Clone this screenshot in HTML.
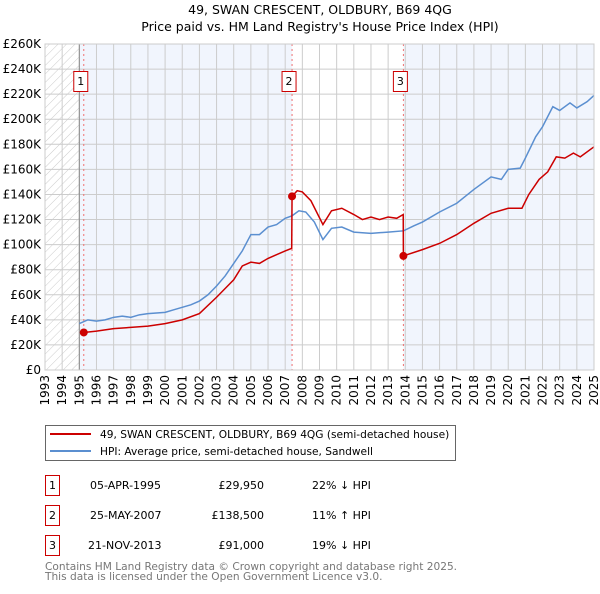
<!DOCTYPE html>
<html><head><meta charset="utf-8"><style>
body{margin:0;background:#fff;font-family:"DejaVu Sans","Liberation Sans",sans-serif;}
svg text{font-family:"DejaVu Sans","Liberation Sans",sans-serif;}
</style></head><body>
<svg id="c" width="600" height="590" viewBox="0 0 600 590" xmlns="http://www.w3.org/2000/svg">
<defs><pattern id="hatch" width="6" height="6" patternUnits="userSpaceOnUse" patternTransform="rotate(45)"><line x1="0" y1="0" x2="0" y2="6" stroke="#ccc" stroke-width="1"/></pattern></defs>
<text x="320" y="14" text-anchor="middle" font-size="12.5" fill="#000">49, SWAN CRESCENT, OLDBURY, B69 4QG</text>
<text x="320" y="31" text-anchor="middle" font-size="12.5" fill="#000">Price paid vs. HM Land Registry's House Price Index (HPI)</text>
<g id="plot"></g>
<g>
<rect x="45.5" y="425.5" width="410" height="35" fill="#fff" stroke="#666"/>
<line x1="50" y1="434" x2="91" y2="434" stroke="#cc0000" stroke-width="2"/>
<text x="100" y="438" font-size="10.6">49, SWAN CRESCENT, OLDBURY, B69 4QG (semi-detached house)</text>
<line x1="50" y1="451" x2="91" y2="451" stroke="#5b8fd0" stroke-width="2"/>
<text x="100" y="455" font-size="10.6">HPI: Average price, semi-detached house, Sandwell</text>
</g>
<g font-size="11">
<rect x="45.5" y="475.5" width="14" height="20" fill="#fff" stroke="#cc0000"/><text x="52.5" y="489" text-anchor="middle">1</text>
<text x="90" y="489">05-APR-1995</text><text x="264" y="489" text-anchor="end">£29,950</text><text x="312" y="489">22% ↓ HPI</text>
<rect x="45.5" y="505.5" width="14" height="20" fill="#fff" stroke="#cc0000"/><text x="52.5" y="519" text-anchor="middle">2</text>
<text x="90" y="519">25-MAY-2007</text><text x="264" y="519" text-anchor="end">£138,500</text><text x="312" y="519">11% ↑ HPI</text>
<rect x="45.5" y="535.5" width="14" height="20" fill="#fff" stroke="#cc0000"/><text x="52.5" y="549" text-anchor="middle">3</text>
<text x="88" y="549">21-NOV-2013</text><text x="264" y="549" text-anchor="end">£91,000</text><text x="312" y="549">19% ↓ HPI</text>
</g>
<text x="45" y="570" font-size="10.6" fill="#777">Contains HM Land Registry data © Crown copyright and database right 2025.</text>
<text x="45" y="580" font-size="10.6" fill="#777">This data is licensed under the Open Government Licence v3.0.</text>
</svg>
<script>
const hpiYears=[1995.0,1995.5,1996,1996.5,1997,1997.5,1998,1998.5,1999,2000,2000.5,2001,2001.5,2002,2002.5,2003,2003.5,2004,2004.5,2005,2005.5,2006,2006.5,2007,2007.4,2007.8,2008.2,2008.7,2009.2,2009.7,2010.3,2011,2012,2013,2013.9,2014.5,2015,2016,2017,2018,2019,2019.6,2020,2020.7,2021,2021.6,2022,2022.6,2023,2023.6,2024,2024.6,2025];
const hpiValues=[37,40,39,40,42,43,42,44,45,46,48,50,52,55,60,67,75,85,95,108,108,114,116,121,123,127,126,118,104,113,114,110,109,110,111,115,118,126,133,144,154,152,160,161,169,186,194,210,207,213,209,214,219];
const ppYears=[1995.26,1996,1997,1998,1999,2000,2001,2002,2003,2003.5,2004,2004.5,2005,2005.5,2006,2007,2007.38,2007.4,2007.7,2008,2008.5,2009.2,2009.7,2010.3,2011,2011.5,2012,2012.5,2013,2013.5,2013.88,2013.89,2015,2016,2017,2018,2019,2020,2020.8,2021.2,2021.8,2022.3,2022.8,2023.3,2023.8,2024.2,2025];
const ppValues=[29.95,31,33,34,35,37,40,45,58,65,72,83,86,85,89,95,97,138.5,143,142,135,116,127,129,124,120,122,120,122,121,124,91,96,101,108,117,125,129,129,140,152,158,170,169,173,170,178];
const saleYears=[1995.26,2007.4,2013.89];
const saleValues=[29.95,138.5,91];
const saleLabels=["1","2","3"];
const yTicks=[0,20,40,60,80,100,120,140,160,180,200,220,240,260];
const yTickLabels=["£0","£20K","£40K","£60K","£80K","£100K","£120K","£140K","£160K","£180K","£200K","£220K","£240K","£260K"];
const xTicks=[1993,1994,1995,1996,1997,1998,1999,2000,2001,2002,2003,2004,2005,2006,2007,2008,2009,2010,2011,2012,2013,2014,2015,2016,2017,2018,2019,2020,2021,2022,2023,2024,2025];

const L=45,R=594,T=44,B=370;
const xs=y=>L+(y-1993)/(2025-1993)*(R-L);
const ys=v=>B-v/260*(B-T);
const NS="http://www.w3.org/2000/svg";
const g=document.getElementById('plot');
function mk(t,a,p){const e=document.createElementNS(NS,t);for(const k in a)e.setAttribute(k,a[k]);(p||g).appendChild(e);return e;}

mk('rect',{x:L,y:T,width:R-L,height:B-T,fill:'#fff'});
mk('rect',{x:xs(1995),y:T,width:xs(saleYears[1])-xs(1995),height:B-T,fill:'#f1f5fd'});
mk('rect',{x:xs(saleYears[2]),y:T,width:R-xs(saleYears[2]),height:B-T,fill:'#f1f5fd'});
mk('rect',{x:L,y:T,width:xs(1995)-L,height:B-T,fill:'url(#hatch)'});
yTicks.forEach((v,i)=>{
  const l=mk('line',{x1:L,x2:R,y1:ys(v),y2:ys(v),stroke:'#ccc','stroke-width':1});
  
  
  const t=mk('text',{x:L-4,y:ys(v)+4,'text-anchor':'end','font-size':12,fill:'#000'});
  t.textContent=yTickLabels[i];
  
  
});
xTicks.forEach(yr=>{
  const l=mk('line',{x1:xs(yr),x2:xs(yr),y1:T,y2:B,stroke:'#ccc','stroke-width':1});
  
  
  const t=mk('text',{x:0,y:0,'text-anchor':'end','font-size':12,fill:'#000',transform:`translate(${xs(yr)+4},${B+5}) rotate(-90)`});
  t.textContent=yr;
  
  
});
mk('line',{x1:xs(1995),x2:xs(1995),y1:T,y2:B,stroke:'#888','stroke-width':1});
saleYears.forEach((yr,i)=>{
  const l=mk('line',{x1:xs(yr),x2:xs(yr),y1:T,y2:B,stroke:'#f07070','stroke-width':1,'stroke-dasharray':'2,3'});
  
  
  const bx=mk('rect',{x:xs(yr)-10,y:71.5,width:14,height:20,fill:'#fff',stroke:'#cc0000'});
  
  
  const t=mk('text',{x:xs(yr)-3,y:85,'text-anchor':'middle','font-size':11});
  t.textContent=saleLabels[i];
  
  
});
const hp=mk('polyline',{points:hpiYears.map((y,i)=>xs(y)+','+ys(hpiValues[i])).join(' '),fill:'none',stroke:'#5b8fd0','stroke-width':1.5});


const pp=mk('polyline',{points:ppYears.map((y,i)=>xs(y)+','+ys(ppValues[i])).join(' '),fill:'none',stroke:'#cc0000','stroke-width':1.5});


saleYears.forEach((yr,i)=>{
  const c=mk('circle',{cx:xs(yr),cy:ys(saleValues[i]),r:4,fill:'#cc0000'});
  
  
});
mk('rect',{x:L,y:T,width:R-L,height:B-T,fill:'none',stroke:'#ccc'});
</script>
</body></html>
